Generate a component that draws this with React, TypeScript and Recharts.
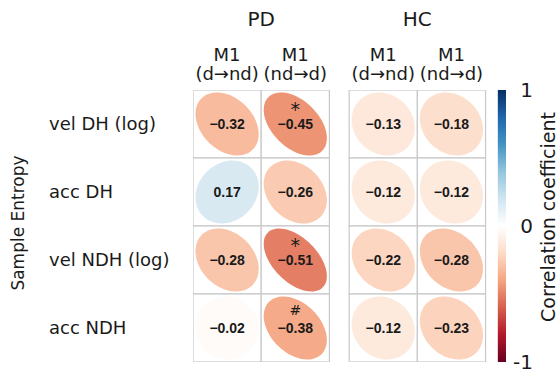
import React from 'react';
import { ScatterChart, Scatter, XAxis, YAxis, ReferenceArea } from 'recharts';

// ---------- data ----------
const groups = ['PD', 'HC'];
const columnTop = ['M1', 'M1', 'M1', 'M1'];
const columnBottom = ['(d→nd)', '(nd→d)', '(d→nd)', '(nd→d)'];
const rowLabels = ['vel DH (log)', 'acc DH', 'vel NDH (log)', 'acc NDH'];
const pdDtoND = [-0.32, 0.17, -0.28, -0.02];
const pdNDtoD = [-0.45, -0.26, -0.51, -0.38];
const hcDtoND = [-0.13, -0.12, -0.22, -0.12];
const hcNDtoD = [-0.18, -0.12, -0.28, -0.23];
const pdDtoNDMarks = ['', '', '', ''];
const pdNDtoDMarks = ['*', '', '*', '#'];
const hcDtoNDMarks = ['', '', '', ''];
const hcNDtoDMarks = ['', '', '', ''];
const colorbarTicks = [-1, 0, 1];
const palette = ['#67001F', '#B2182B', '#D6604D', '#F4A582', '#FDDBC7', '#FFFFFF', '#D1E5F0', '#92C5DE', '#4393C3', '#2166AC', '#053061'];

// column slot starts on the x axis (PD: 2 columns, gap, HC: 2 columns)
const columnStarts = [0, 1, 2.29, 3.29];
const columnSeries = [pdDtoND, pdNDtoD, hcDtoND, hcNDtoD];
const columnMarks = [pdDtoNDMarks, pdNDtoDMarks, hcDtoNDMarks, hcNDtoDMarks];

// ---------- layout ----------
const W = 560;
const H = 373;
const MARGIN = { top: 0, right: 4, bottom: 11, left: 0 };
const ROW_AXIS_W = 193;
const CB_AXIS_W = 50;
const TOP_AXIS_H = 90;
const X_MAX = 4.59;
const CB_X1 = 4.47;
const PLOT_W = W - MARGIN.left - MARGIN.right - ROW_AXIS_W - CB_AXIS_W;
const PLOT_H = H - MARGIN.top - MARGIN.bottom - TOP_AXIS_H;
const CELL_X = PLOT_W / X_MAX;
const CELL_Y = PLOT_H / rowLabels.length;
const LABEL_FONT = '"DejaVu Sans", Verdana, sans-serif';
const NUM_FONT = '"Liberation Sans", Arial, sans-serif';
const INK = '#1a1a1a';

const cells = columnSeries.flatMap((series, c) =>
  series.map((r, i) => ({
    x: columnStarts[c] + 0.5,
    y: i + 0.5,
    r,
    mark: columnMarks[c][i],
  }))
);

function hexToRgb(h: string) {
  const n = parseInt(h.slice(1), 16);
  return [(n >> 16) & 255, (n >> 8) & 255, n & 255];
}
function corrColor(r: number) {
  const t = ((r + 1) / 2) * (palette.length - 1);
  const i = Math.min(Math.floor(t), palette.length - 2);
  const f = t - i;
  const a = hexToRgb(palette[i]);
  const b = hexToRgb(palette[i + 1]);
  const m = a.map((v, k) => Math.round(v + (b[k] - v) * f));
  return `rgb(${m[0]},${m[1]},${m[2]})`;
}
function ellipsePath(cx: number, cy: number, sx: number, sy: number, r: number) {
  const d = Math.acos(Math.max(-1, Math.min(1, r)));
  const pts: string[] = [];
  const n = 72;
  for (let k = 0; k <= n; k++) {
    const t = (k / n) * Math.PI * 2;
    const x = Math.cos(t + d / 2);
    const y = Math.cos(t - d / 2);
    pts.push(`${(cx + sx * x).toFixed(2)},${(cy - sy * y).toFixed(2)}`);
  }
  return 'M' + pts.join('L') + 'Z';
}

const CellShape = (props: any) => {
  const { cx, cy, payload } = props;
  if (cx == null || cy == null) return null;
  const r = payload.r as number;
  const hw = CELL_X / 2;
  const hh = CELL_Y / 2;
  const txt = r.toFixed(2).replace('-', '\u2212');
  return (
    <g>
      <rect x={cx - hw} y={cy - hh} width={CELL_X} height={CELL_Y} fill="#ffffff" stroke="#c8c8c8" strokeWidth={1.2} />
      <path d={ellipsePath(cx, cy, hw - 2.5, hh - 2.5, r)} fill={corrColor(r)} stroke="none" />
      <text x={cx} y={cy + 5} textAnchor="middle" fontFamily={NUM_FONT} fontWeight="bold" fontSize={14} fill={INK}>
        {txt}
      </text>
      {payload.mark === '*' && (
        <text x={cx} y={cy - 8} textAnchor="middle" fontFamily={LABEL_FONT} fontSize={19} fill={INK}>*</text>
      )}
      {payload.mark === '#' && (
        <text x={cx} y={cy - 13} textAnchor="middle" fontFamily={LABEL_FONT} fontSize={14} fill={INK}>#</text>
      )}
    </g>
  );
};

const ColumnTick = (props: any) => {
  const { x, index } = props;
  return (
    <g>
      <text x={x} y={61} textAnchor="middle" fontFamily={LABEL_FONT} fontSize={18} fill={INK}>{columnTop[index]}</text>
      <text x={x} y={80} textAnchor="middle" fontFamily={LABEL_FONT} fontSize={18} fill={INK}>{columnBottom[index]}</text>
      {index % 2 === 0 && (
        <text x={x + CELL_X / 2} y={26} textAnchor="middle" fontFamily={LABEL_FONT} fontSize={20} fill={INK}>
          {groups[index / 2]}
        </text>
      )}
    </g>
  );
};

const RowTick = (props: any) => {
  const { y, index } = props;
  return (
    <text x={49} y={y + 6} textAnchor="start" fontFamily={LABEL_FONT} fontSize={18} fill={INK}>
      {rowLabels[index]}
    </text>
  );
};

const CbTick = (props: any) => {
  const { y, payload } = props;
  return (
    <text x={533} y={y + 7} textAnchor="end" fontFamily={LABEL_FONT} fontSize={20} fill={INK}>
      {String(payload.value).replace('\u2212', '-')}
    </text>
  );
};

const SideLabel = () => (
  <text x={24} y={223} transform="rotate(-90 24 223)" textAnchor="middle" fontFamily={LABEL_FONT} fontSize={17} fill={INK}>
    Sample Entropy
  </text>
);
const CbLabel = () => (
  <text x={555} y={217} transform="rotate(-90 555 217)" textAnchor="middle" fontFamily={LABEL_FONT} fontSize={19} fill={INK}>
    Correlation coefficient
  </text>
);

export default function App() {
  return (
    <div style={{ position: 'absolute', left: 0, top: 0, background: '#fff' }}>
      <ScatterChart width={W} height={H} margin={MARGIN}>
        <defs>
          <linearGradient id="cbGrad" x1="0" y1="0" x2="0" y2="1">
            {palette.map((c, k) => (
              <stop key={k} offset={`${(k / (palette.length - 1)) * 100}%`} stopColor={palette[palette.length - 1 - k]} />
            ))}
          </linearGradient>
        </defs>
        <XAxis
          type="number"
          dataKey="x"
          orientation="top"
          domain={[0, X_MAX]}
          allowDataOverflow
          ticks={columnStarts.map((s) => s + 0.5)}
          interval={0}
          height={TOP_AXIS_H}
          axisLine={false}
          tickLine={false}
          tick={<ColumnTick />}
        />
        <YAxis
          type="number"
          dataKey="y"
          domain={[0, rowLabels.length]}
          allowDataOverflow
          reversed
          ticks={rowLabels.map((_, i) => i + 0.5)}
          interval={0}
          width={ROW_AXIS_W}
          axisLine={false}
          tickLine={false}
          tick={<RowTick />}
          label={<SideLabel />}
        />
        <YAxis
          yAxisId="cb"
          type="number"
          orientation="right"
          domain={[-1, 1]}
          allowDataOverflow
          ticks={colorbarTicks}
          interval={0}
          width={CB_AXIS_W}
          axisLine={false}
          tickLine={false}
          tick={<CbTick />}
          label={<CbLabel />}
        />
        <ReferenceArea
          yAxisId="cb"
          x1={CB_X1}
          x2={X_MAX}
          y1={-1}
          y2={1}
          ifOverflow="visible"
          fill="url(#cbGrad)"
          fillOpacity={1}
          stroke="none"
        />
        <Scatter data={cells} shape={<CellShape />} isAnimationActive={false} />
      </ScatterChart>
    </div>
  );
}
